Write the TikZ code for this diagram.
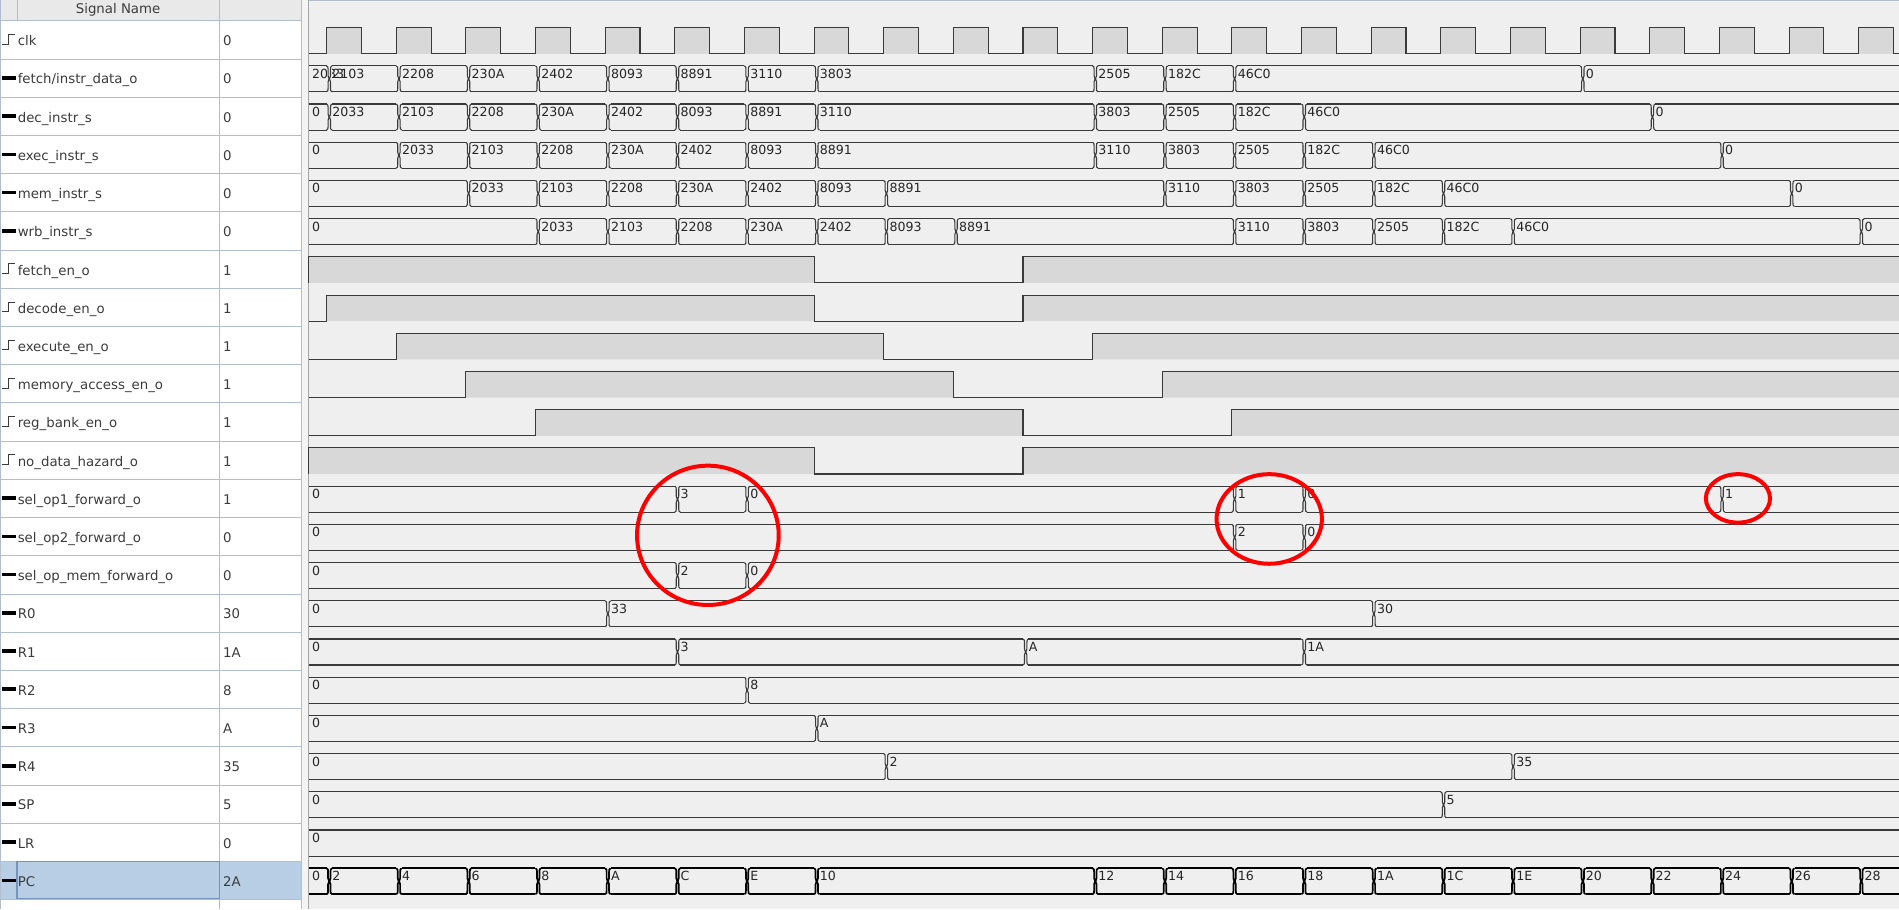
\documentclass[tikz,border=0pt]{standalone}
\usepackage{fontspec}
\setmainfont{DejaVu Sans}
\usepackage{tikz}
\usetikzlibrary{positioning}

\definecolor{wavebg}{HTML}{EFEFEF}
\definecolor{hifill}{HTML}{D8D8D8}
\definecolor{gridln}{HTML}{B2BECC}
\definecolor{hdrbg}{HTML}{E9E9E9}
\definecolor{selbg}{HTML}{B8CEE5}
\definecolor{selln}{HTML}{7494BC}
\definecolor{wavln}{HTML}{3A3A3A}
\definecolor{lbltxt}{HTML}{3C3C3C}

% bus trace: [style] row, first value, edge/value list
\newcommand{\busrow}[4][]{%
  \pgfmathsetmacro\yc{32.8+31.55*#2}
  \pgfmathsetmacro\yt{\yc-10}
  \pgfmathsetmacro\yb{\yc+11.5}
  \pgfmathsetmacro\ym{\yc+0.75}
  \draw[wave,#1] (255,\yt) -- (1568,\yt) (255,\yb) -- (1568,\yb);
  \node[val] (v#2) at (257.5,\yc+0.3) {#3};
  \def\tmplist{#4}%
  \ifx\tmplist\empty\else
  \foreach \k/\wv in {#4} {
    \pgfmathsetmacro\cx{271.9+57.5*\k}
    \fill[wavebg] (\cx-2.3,\yt-1.5) rectangle (\cx+2.3,\yb+1.5);
    \draw[wave,#1] (\cx-2.3,\yt) to[out=0,in=90] (\cx-1,\yt+3) -- (\cx-1,\ym-2.5) -- (\cx-0.2,\ym)
        -- (\cx-1,\ym+2.5) -- (\cx-1,\yb-3) to[out=-90,in=0] (\cx-2.3,\yb)
        (\cx+2.3,\yt) to[out=180,in=90] (\cx+1,\yt+3) -- (\cx+1,\ym-2.5) -- (\cx+0.2,\ym)
        -- (\cx+1,\ym+2.5) -- (\cx+1,\yb-3) to[out=-90,in=180] (\cx+2.3,\yb);
    \node[val] (v#2-\k) at (\cx+2.4,\yc+0.3) {\wv};
  }
  \fi
}

% one-bit trace: row, rise, fall, rise (edge numbers, -1 = high at start)
\newcommand{\bitrow}[4]{%
  \pgfmathsetmacro\yt{22.8+31.55*#1}
  \pgfmathsetmacro\yb{44.3+31.55*#1}
  \pgfmathsetmacro\xa{max(255,269.7+57.5*#2)}
  \pgfmathsetmacro\xb{269.7+57.5*#3}
  \pgfmathsetmacro\xc{269.7+57.5*#4}
  \fill[hifill] (\xa,\yt) rectangle (\xb,\yb) (\xc,\yt) rectangle (1568,\yb);
  \draw[wave] (255,\yb) -- (\xa,\yb) -- (\xa,\yt) -- (\xb,\yt) -- (\xb,\yb) -- (\xc,\yb) -- (\xc,\yt) -- (1568,\yt);
}

\begin{document}
\begin{tikzpicture}[x=1pt,y=-1pt]
    \tikzstyle{wave} = [draw=wavln, line width=0.9pt];
    \tikzstyle{sel} = [draw=black, line width=1.4pt];
    \tikzstyle{val} = [anchor=base west, inner sep=0pt, text=black!85, font=\fontsize{10.4}{12}\selectfont];
    \tikzstyle{lbl} = [anchor=base west, inner sep=0pt, text=lbltxt, font=\fontsize{11}{13}\selectfont];
    \tikzstyle{hdr} = [inner sep=0pt, text=lbltxt, font=\fontsize{11}{13}\selectfont];
    \useasboundingbox (0,0) rectangle (1568,750.6);

    % signal list
    \fill[white] (0,0) rectangle (249,750.6);
    \fill[hdrbg] (0,0) rectangle (249,17);
    \fill[selbg] (0,{17+31.55*22}) rectangle (249,{17+31.55*23});
    \foreach \i in {0,...,23} \draw[gridln] (0,{17+31.55*\i}) -- (249,{17+31.55*\i});
    \draw[gridln] (14,0) -- (14,17) (181,0) -- (181,750.6) (249,0) -- (249,750.6) (0.5,0) -- (0.5,750.6);
    \draw[selln, line width=1pt] (14,{17.5+31.55*22}) rectangle (181,{16.5+31.55*23});
    \node[hdr] (hdr) at (97.5,8.5) {Signal Name};
    \foreach \i/\nm/\vl in {0/clk/0, 1/{fetch/instr\_data\_o}/0, 2/dec\_instr\_s/0, 3/exec\_instr\_s/0,
        4/mem\_instr\_s/0, 5/wrb\_instr\_s/0, 6/fetch\_en\_o/1, 7/decode\_en\_o/1, 8/execute\_en\_o/1,
        9/memory\_access\_en\_o/1, 10/reg\_bank\_en\_o/1, 11/no\_data\_hazard\_o/1,
        12/sel\_op1\_forward\_o/1, 13/sel\_op2\_forward\_o/0, 14/sel\_op\_mem\_forward\_o/0,
        15/R0/30, 16/R1/1A, 17/R2/8, 18/R3/A, 19/R4/35, 20/SP/5, 21/LR/0, 22/PC/2A} {
        \node[lbl] (n\i) at (14.5,{37.8+31.55*\i}) {\nm};
        \node[lbl] (c\i) at (184,{37.8+31.55*\i}) {\vl};
    }
    \foreach \i in {0,6,7,8,9,10,11}
        \draw[lbltxt, line width=0.8pt] (1.5,{36.4+31.55*\i}) -- (7,{36.4+31.55*\i}) -- (7,{28.6+31.55*\i}) -- (12.5,{28.6+31.55*\i});
    \foreach \i in {1,2,3,4,5,12,13,14,15,16,17,18,19,20,21,22}
        \draw[black, line width=3pt] (1.5,{32.8+31.55*\i}) -- (13,{32.8+31.55*\i});

    % split bar
    \fill[hdrbg!50!white] (249,0) rectangle (254,750.6);
    \draw[gray!70] (254.3,0) -- (254.3,750.6);

    % waveforms
    \fill[wavebg] (254.8,0) rectangle (1568,750.6);
    \draw[gridln] (254.8,0.5) -- (1568,0.5);
    \foreach \k in {0,...,22}
        \fill[hifill] ({269.7+57.5*\k},22.8) rectangle ({298.45+57.5*\k},44.3);
    \draw[wave] (255,44.3) \foreach \k in {0,...,22} {
        -- ({269.7+57.5*\k},44.3) -- ({269.7+57.5*\k},22.8) -- ({298.45+57.5*\k},22.8) -- ({298.45+57.5*\k},44.3)}
        -- (1568,44.3);

    \busrow{1}{2033}{0/2103, 1/2208, 2/230A, 3/2402, 4/8093, 5/8891, 6/3110, 7/3803, 11/2505, 12/182C, 13/46C0, 18/0}
    \busrow{2}{0}{0/2033, 1/2103, 2/2208, 3/230A, 4/2402, 5/8093, 6/8891, 7/3110, 11/3803, 12/2505, 13/182C, 14/46C0, 19/0}
    \busrow{3}{0}{1/2033, 2/2103, 3/2208, 4/230A, 5/2402, 6/8093, 7/8891, 11/3110, 12/3803, 13/2505, 14/182C, 15/46C0, 20/0}
    \busrow{4}{0}{2/2033, 3/2103, 4/2208, 5/230A, 6/2402, 7/8093, 8/8891, 12/3110, 13/3803, 14/2505, 15/182C, 16/46C0, 21/0}
    \busrow{5}{0}{3/2033, 4/2103, 5/2208, 6/230A, 7/2402, 8/8093, 9/8891, 13/3110, 14/3803, 15/2505, 16/182C, 17/46C0, 22/0}

    \bitrow{6}{-1}{7}{10}
    \bitrow{7}{0}{7}{10}
    \bitrow{8}{1}{8}{11}
    \bitrow{9}{2}{9}{12}
    \bitrow{10}{3}{10}{13}
    \bitrow{11}{-1}{7}{10}

    \busrow{12}{0}{5/3, 6/0, 13/1, 14/0, 20/1}
    \busrow{13}{0}{13/2, 14/0}
    \busrow{14}{0}{5/2, 6/0}
    \busrow{15}{0}{4/33, 15/30}
    \busrow{16}{0}{5/3, 10/A, 14/1A}
    \busrow{17}{0}{6/8}
    \busrow{18}{0}{7/A}
    \busrow{19}{0}{8/2, 17/35}
    \busrow{20}{0}{16/5}
    \busrow{21}{0}{}
    \busrow[sel]{22}{0}{0/2, 1/4, 2/6, 3/8, 4/A, 5/C, 6/E, 7/10, 11/12, 12/14, 13/16, 14/18, 15/1A, 16/1C, 17/1E, 18/20, 19/22, 20/24, 21/26, 22/28}

    % marks
    \draw[red, line width=3.3pt] (584.5,442) ellipse [x radius=58.5, y radius=57.5];
    \draw[red, line width=3.3pt] (1048,428.5) ellipse [x radius=43.5, y radius=37];
    \draw[red, line width=3.3pt] (1435,411.5) ellipse [x radius=26.5, y radius=20];
\end{tikzpicture}
\end{document}
